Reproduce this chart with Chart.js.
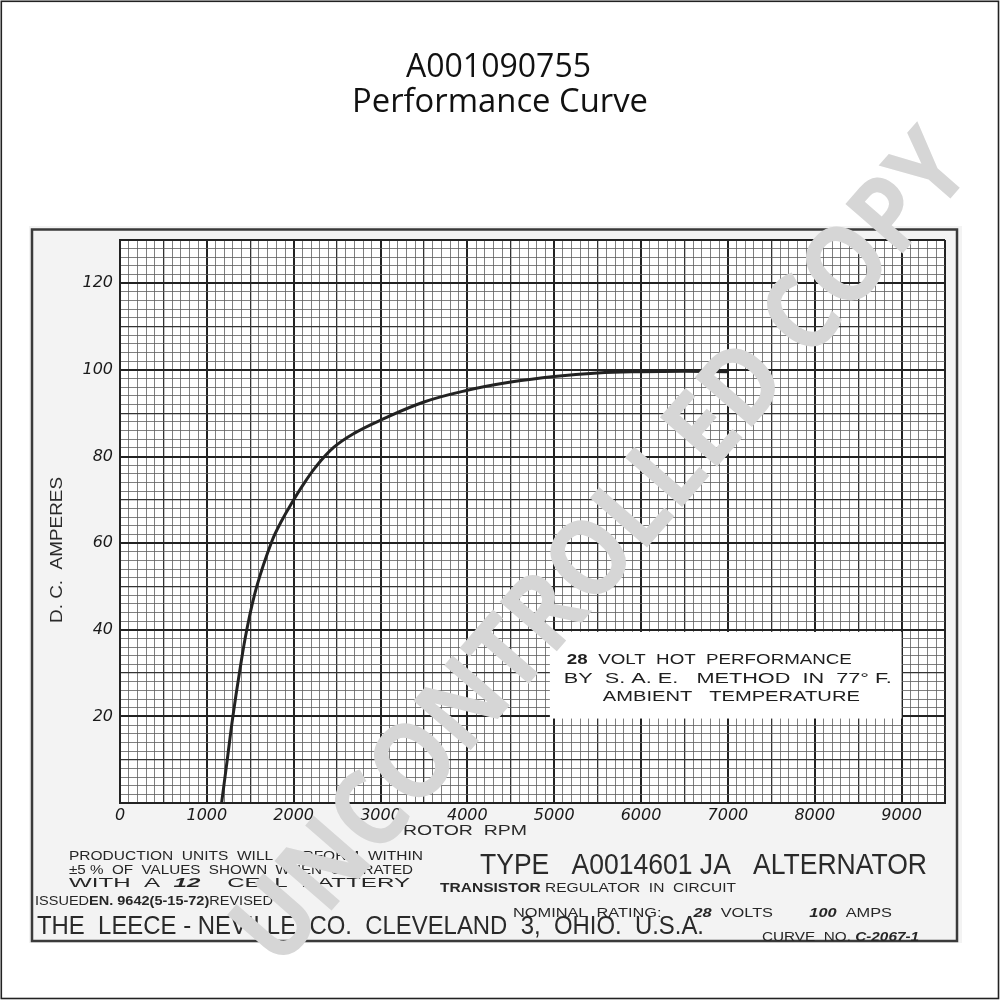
<!DOCTYPE html>
<html>
<head>
<meta charset="utf-8">
<script src="https://cdn.jsdelivr.net/npm/chart.js@4/dist/chart.umd.min.js"></script>
<style>
html,body{margin:0;padding:0;background:#fff;}
canvas{display:block;}
</style>
</head>
<body>
<canvas id="c" width="1000" height="1000"></canvas>
<script>
// ---- data ----
const rpm  = [1170, 1235, 1300, 1375, 1460, 1575, 1750, 1865, 2000, 2080, 2250, 2460, 2700, 3000, 3500, 4000, 4500, 5000, 5500, 6000, 6500, 7000];
const amps = [0, 10, 20, 30, 40, 50, 60.5, 65.3, 70, 72.6, 77.5, 82.1, 85.4, 88.4, 92.6, 95.3, 97.2, 98.5, 99.3, 99.6, 99.7, 99.6];
const xTickLabels = ['0', '1000', '2000', '3000', '4000', '5000', '6000', '7000', '8000', '9000'];
const yTickLabels = ['20', '40', '60', '80', '100', '120'];
const xRange = [0, 9500];
const yRange = [0, 130];
const noteBoxRpm = [4950, 9000];
const noteBoxAmps = [19.5, 39.5];

const titleLines = ['A001090755', 'Performance Curve'];
const xTitle = 'ROTOR  RPM';
const yTitle = 'D. C.  AMPERES';
const noteLines = [
  [{t: '28', b: true}, {t: '  VOLT  HOT  PERFORMANCE'}],
  [{t: 'BY  S. A. E.   METHOD  IN  77\u00B0 F.'}],
  [{t: 'AMBIENT   TEMPERATURE'}]
];

function near(v, m) { const q = v / m; return Math.abs(q - Math.round(q)) < 1e-6; }
function level(v, major, mid, max) {
  const r = Math.round(v * 1000) / 1000;
  if (near(r, major) || Math.abs(r - max) < 1e-6) return 0;
  if (near(r, mid)) return 1;
  return 2;
}
const gridColors = ['#222222', '#333333', '#5e5e5e'];
const gridWidths = [2, 1.3, 0.8];

// draw segmented text scaled to an exact width
function runText(ctx, segs, x, y, width, size, family, color, rot) {
  ctx.save();
  const fonts = segs.map(s => (s.i ? 'italic ' : '') + (s.b ? 'bold ' : '') + size + 'px ' + family);
  let total = 0;
  const ws = segs.map((s, k) => { ctx.font = fonts[k]; const w = ctx.measureText(s.t).width; total += w; return w; });
  ctx.translate(x, y);
  if (rot) ctx.rotate(rot);
  const sc = width ? width / total : 1;
  ctx.scale(sc, 1);
  ctx.fillStyle = color;
  ctx.textBaseline = 'alphabetic';
  ctx.textAlign = 'left';
  let cx = 0;
  segs.forEach((s, k) => { ctx.font = fonts[k]; ctx.fillText(s.t, cx, 0); cx += ws[k]; });
  ctx.restore();
}

const decor = {
  id: 'decor',
  beforeDraw(chart) {
    const ctx = chart.ctx;
    const a = chart.chartArea;
    ctx.save();
    ctx.fillStyle = '#ffffff';
    ctx.fillRect(0, 0, 1000, 1000);
    // scanned sheet
    ctx.fillStyle = '#f3f3f3';
    ctx.fillRect(29, 226, 933, 717);
    ctx.strokeStyle = '#3a3a3a';
    ctx.lineWidth = 2.5;
    ctx.strokeRect(32, 229.5, 925, 711.5);
    // graph paper
    ctx.fillStyle = '#ffffff';
    ctx.fillRect(a.left, a.top, a.right - a.left, a.bottom - a.top);
    ctx.restore();
  },
  afterDraw(chart) {
    const ctx = chart.ctx;
    const xs = chart.scales.x, ys = chart.scales.y;
    const fam = '"Liberation Sans", Arial, sans-serif';
    // title
    runText(ctx, [{t: titleLines[0]}], 406, 77, 185, 32, '"Open Sans"', '#111');
    runText(ctx, [{t: titleLines[1]}], 352, 112, 296, 32, '"Open Sans"', '#111');
    // axis titles
    runText(ctx, [{t: yTitle}], 62, 623, 146, 17, fam, '#2a2a2a', -Math.PI / 2);
    runText(ctx, [{t: xTitle}], 403, 835, 124, 15, fam, '#2a2a2a');
    // note box
    const bx0 = xs.getPixelForValue(noteBoxRpm[0]), bx1 = xs.getPixelForValue(noteBoxRpm[1]);
    const by0 = ys.getPixelForValue(noteBoxAmps[1]), by1 = ys.getPixelForValue(noteBoxAmps[0]);
    ctx.save();
    ctx.fillStyle = '#ffffff';
    ctx.fillRect(bx0, by0, bx1 - bx0, by1 - by0);
    ctx.restore();
    runText(ctx, noteLines[0], bx0 + 17, by0 + 32.5, 285, 15, fam, '#1e1e1e');
    runText(ctx, noteLines[1], bx0 + 14, by0 + 51.5, 328, 15, fam, '#1e1e1e');
    runText(ctx, noteLines[2], bx0 + 53, by0 + 69, 257, 15, fam, '#1e1e1e');
    // bottom block texts
    const ink = '#262626';
    runText(ctx, [{t: 'PRODUCTION  UNITS  WILL  PERFORM  WITHIN'}], 69, 859.5, 354, 13, fam, ink);
    runText(ctx, [{t: '\u00B15 %  OF  VALUES  SHOWN  WHEN  OPERATED'}], 69, 873.5, 344, 13, fam, ink);
    runText(ctx, [{t: 'WITH  A  '}, {t: '12', b: true, i: true}, {t: '    CELL  BATTERY'}], 69, 886.5, 341, 13, fam, ink);
    runText(ctx, [{t: 'ISSUED'}, {t: 'EN. 9642(5-15-72)', b: true}, {t: 'REVISED'}], 35, 905, 238, 12.5, fam, ink);
    runText(ctx, [{t: 'THE  LEECE - NEVILLE  CO.  CLEVELAND  3,  OHIO.  U.S.A.'}], 37, 934, 667, 25, fam, '#2a2a2a');
    runText(ctx, [{t: 'TYPE   A0014601 JA   ALTERNATOR'}], 480, 874, 447, 29, fam, '#2a2a2a');
    runText(ctx, [{t: 'TRANSISTOR', b: true}, {t: ' REGULATOR  IN  CIRCUIT'}], 440, 891.5, 296, 13.5, fam, ink);
    runText(ctx, [{t: 'NOMINAL  RATING:       '}, {t: '28', b: true, i: true}, {t: '  VOLTS        '}, {t: '100', b: true, i: true}, {t: '  AMPS'}], 513, 916.5, 379, 12.5, fam, ink);
    runText(ctx, [{t: 'CURVE  NO. '}, {t: 'C-2067-1', b: true, i: true}], 762, 941, 157, 13, fam, ink);
    // watermark
    ctx.save();
    ctx.translate(604, 551);
    ctx.rotate(-49 * Math.PI / 180);
    ctx.font = 'bold 106px "Open Sans", sans-serif';
    const wm = 'UNCONTROLLED COPY';
    const w = ctx.measureText(wm).width;
    ctx.scale(1060 / w, 1);
    ctx.fillStyle = '#d6d6d6';
    ctx.textAlign = 'center';
    ctx.textBaseline = 'middle';
    ctx.fillText(wm, 0, 0);
    ctx.restore();
    // page frame
    ctx.save();
    ctx.strokeStyle = '#222';
    ctx.lineWidth = 1.6;
    ctx.strokeRect(1.3, 1.3, 997.2, 997.2);
    ctx.restore();
  }
};

const points = rpm.map((r, i) => ({x: r, y: amps[i]}));
const tickFont = {family: '"DejaVu Sans", sans-serif', size: 16, style: 'italic'};

new Chart(document.getElementById('c'), {
  type: 'line',
  data: {
    datasets: [{
      data: points,
      borderColor: '#222222',
      borderWidth: 3,
      pointRadius: 0,
      fill: false,
      tension: 0.4
    }]
  },
  options: {
    responsive: false,
    animation: false,
    devicePixelRatio: 1,
    layout: {padding: {top: 240, left: 40, right: 55, bottom: 172}},
    plugins: {legend: {display: false}, tooltip: {enabled: false}, title: {display: false}},
    scales: {
      x: {
        type: 'linear',
        min: xRange[0], max: xRange[1],
        afterFit(s) { s.height = 25; },
        ticks: {
          stepSize: 100, autoSkip: false, maxRotation: 0, minRotation: 0, padding: 3,
          color: '#1a1a1a', font: tickFont,
          callback(v) { const s = String(Math.round(v)); return xTickLabels.includes(s) && near(v, 1000) ? s : ''; }
        },
        grid: {
          drawTicks: false,
          color: c => gridColors[level(c.tick.value, 1000, 500, xRange[1])],
          lineWidth: c => gridWidths[level(c.tick.value, 1000, 500, xRange[1])]
        },
        border: {display: true, color: '#222', width: 2}
      },
      y: {
        type: 'linear',
        min: yRange[0], max: yRange[1],
        afterFit(s) { s.width = 80; },
        ticks: {
          stepSize: 2, autoSkip: false, padding: 7,
          color: '#1a1a1a', font: tickFont,
          callback(v) { const s = String(Math.round(v)); return yTickLabels.includes(s) && near(v, 20) ? s : ''; }
        },
        grid: {
          drawTicks: false,
          color: c => gridColors[level(c.tick.value, 20, 10, yRange[1])],
          lineWidth: c => gridWidths[level(c.tick.value, 20, 10, yRange[1])]
        },
        border: {display: true, color: '#222', width: 2}
      }
    }
  },
  plugins: [decor]
});
</script>
</body>
</html>
